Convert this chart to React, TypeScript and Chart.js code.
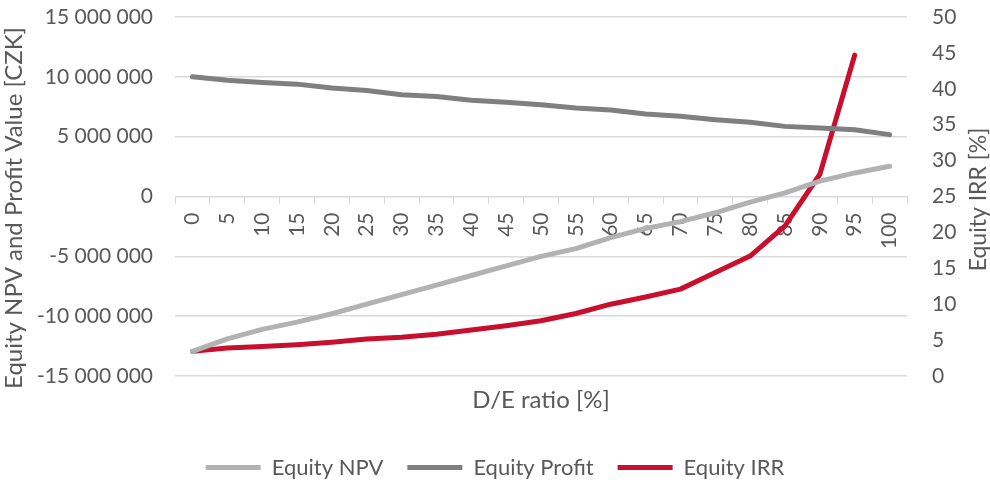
import React, { useEffect, useRef } from 'react';
import { Chart, registerables } from 'chart.js';

Chart.register(...registerables);

const FONT_FAMILY = 'Lato';
const FONT_SIZE = 21;
const TITLE_SIZE = 24;
const RIGHT_TITLE_SIZE = 23;
const LEGEND_SIZE = 22;
const TEXT_COLOR = '#595959';
const GRID_COLOR = '#d9d9d9';

const categories = ['0', '5', '10', '15', '20', '25', '30', '35', '40', '45', '50', '55', '60', '65', '70', '75', '80', '85', '90', '95', '100'];

const equityNPV = [
  -12950000, -11900000, -11100000, -10500000, -9800000, -9000000, -8200000, -7400000, -6600000, -5800000,
  -5000000, -4360000, -3440000, -2670000, -2100000, -1360000, -470000, 300000, 1280000, 1970000, 2530000,
];

const equityProfit = [
  10000000, 9720000, 9530000, 9390000, 9060000, 8860000, 8500000, 8350000, 8050000, 7870000,
  7670000, 7390000, 7220000, 6900000, 6700000, 6420000, 6200000, 5860000, 5720000, 5580000, 5170000,
];

const equityIRR = [
  3.43, 3.9, 4.1, 4.35, 4.7, 5.14, 5.4, 5.8, 6.4, 7.0,
  7.7, 8.7, 10.0, 11.0, 12.1, 14.4, 16.7, 20.9, 28.1, 44.7, null,
];

const seriesNames = ['Equity NPV', 'Equity Profit', 'Equity IRR'];
const seriesColors = ['#b2b2b2', '#7f7f7f', '#c8102e'];

const leftTitle = 'Equity NPV and Profit Value [CZK]';
const rightTitle = 'Equity IRR [%]';
const xTitle = 'D/E ratio [%]';

const leftMin = -15000000;
const leftMax = 15000000;
const leftStep = 5000000;
const rightMin = 0;
const rightMax = 50;
const rightStep = 5;

const formatThousands = (v: number) => {
  const s = Math.abs(Math.round(v)).toString().replace(/\B(?=(\d{3})+(?!\d))/g, ' ');
  return (v < 0 ? '-' : '') + s;
};

const yTitlesPlugin = {
  id: 'yTitles',
  afterDraw(chart: any) {
    const { ctx } = chart;
    ctx.save();
    ctx.fillStyle = TEXT_COLOR;
    ctx.textAlign = 'center';
    ctx.textBaseline = 'alphabetic';
    ctx.save();
    ctx.font = `${TITLE_SIZE}px ${FONT_FAMILY}`;
    ctx.translate(22, 208);
    ctx.rotate(-Math.PI / 2);
    ctx.fillText(leftTitle, 0, 0);
    ctx.restore();
    ctx.save();
    ctx.font = `${RIGHT_TITLE_SIZE}px ${FONT_FAMILY}`;
    ctx.translate(986, 199.5);
    ctx.rotate(-Math.PI / 2);
    ctx.fillText(rightTitle, 0, 0);
    ctx.restore();
    ctx.restore();
  },
};

export default function App() {
  const canvasRef = useRef<HTMLCanvasElement | null>(null);

  useEffect(() => {
    if (!canvasRef.current) return;
    const font = { family: FONT_FAMILY, size: FONT_SIZE };
    const titleFont = { family: FONT_FAMILY, size: TITLE_SIZE };
    const legendFont = { family: FONT_FAMILY, size: LEGEND_SIZE };
    const legendPad = 24;
    const chart = new Chart(canvasRef.current, {
      type: 'line',
      data: {
        labels: categories,
        datasets: [
          { label: seriesNames[0], data: equityNPV, yAxisID: 'y', xAxisID: 'x' },
          { label: seriesNames[1], data: equityProfit, yAxisID: 'y', xAxisID: 'x' },
          { label: seriesNames[2], data: equityIRR, yAxisID: 'y1', xAxisID: 'x' },
        ].map((d, i) => ({
          ...d,
          borderColor: seriesColors[i],
          backgroundColor: seriesColors[i],
          borderWidth: 5,
          pointRadius: 0,
          pointHoverRadius: 0,
          tension: 0,
          borderCapStyle: 'round' as const,
          borderJoinStyle: 'round' as const,
          pointStyle: 'line' as const,
          spanGaps: false,
        })),
      },
      options: {
        responsive: false,
        animation: false,
        layout: { padding: { top: 17, left: 0, right: 0, bottom: -6.5 } },
        font,
        color: TEXT_COLOR,
        plugins: {
          tooltip: { enabled: false },
          legend: {
            display: true,
            position: 'bottom',
            labels: {
              usePointStyle: true,
              pointStyle: 'line',
              pointStyleWidth: 55,
              padding: legendPad,
              color: TEXT_COLOR,
              font: legendFont,
            },
          },
        },
        scales: {
          x: {
            type: 'category',
            position: { y: 0 } as any,
            offset: true,
            grid: {
              display: true,
              drawOnChartArea: false,
              drawTicks: true,
              tickLength: 7,
              tickColor: GRID_COLOR,
              color: GRID_COLOR,
              offset: true,
            },
            border: { display: true, color: GRID_COLOR, width: 1 },
            ticks: {
              minRotation: 90,
              maxRotation: 90,
              autoSkip: false,
              padding: 9,
              color: TEXT_COLOR,
              font,
            },
          },
          x2: {
            type: 'category',
            position: 'bottom',
            offset: true,
            grid: { display: false, drawTicks: false },
            border: { display: false },
            ticks: { display: false },
            title: {
              display: true,
              text: xTitle,
              color: TEXT_COLOR,
              font: titleFont,
              padding: { top: 0, bottom: 18 },
            },
            afterFit: (s: any) => {
              s.height = 80.5 - legendPad;
            },
          },
          y: {
            position: 'left',
            min: leftMin,
            max: leftMax,
            ticks: {
              stepSize: leftStep,
              padding: 3,
              color: TEXT_COLOR,
              font,
              callback: (v: any) => formatThousands(Number(v)),
            },
            grid: {
              color: GRID_COLOR,
              lineWidth: 1.5,
              drawTicks: true,
              tickLength: 19,
              tickColor: 'rgba(0,0,0,0)',
            },
            border: { display: false },
            afterFit: (s: any) => {
              s.width = 175;
            },
          },
          y1: {
            position: 'right',
            min: rightMin,
            max: rightMax,
            ticks: {
              stepSize: rightStep,
              padding: 3,
              color: TEXT_COLOR,
              font,
            },
            grid: {
              display: true,
              drawOnChartArea: false,
              drawTicks: true,
              tickLength: 22,
              tickColor: 'rgba(0,0,0,0)',
            },
            border: { display: false },
            afterFit: (s: any) => {
              s.width = 83;
            },
          },
        },
      },
      plugins: [yTitlesPlugin],
    } as any);
    return () => chart.destroy();
  }, []);

  return (
    <div style={{ position: 'absolute', left: 0, top: 0, width: 990, height: 482, background: '#fff' }}>
      <canvas ref={canvasRef} width={990} height={482} style={{ display: 'block' }} />
    </div>
  );
}
